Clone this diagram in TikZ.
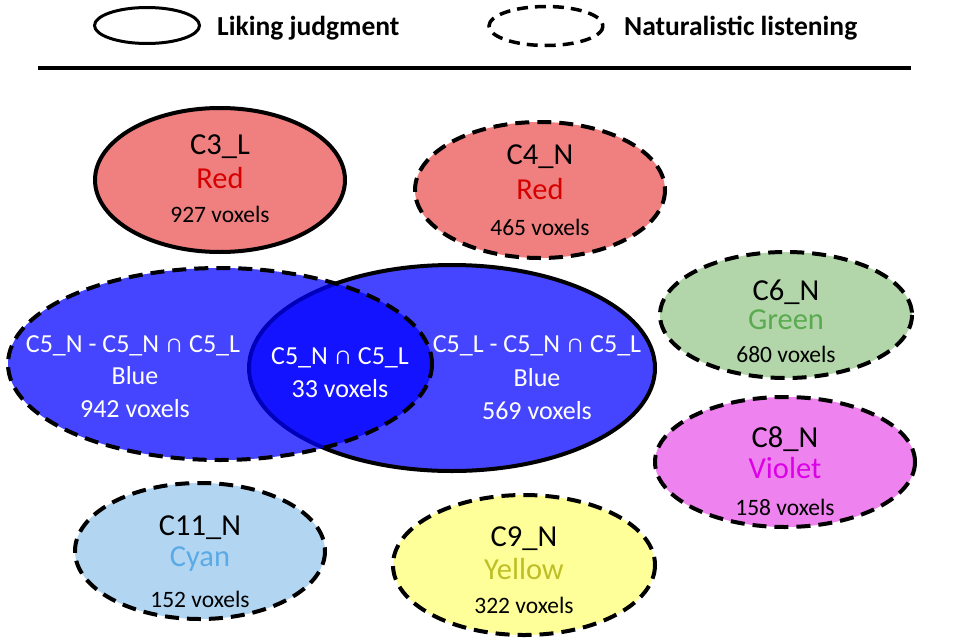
\documentclass[tikz,border=0pt]{standalone}
\usepackage{fontspec}
\setmainfont{Carlito}
\usetikzlibrary{shapes.geometric}
\definecolor{redfill}{RGB}{240,128,128}
\definecolor{redtext}{RGB}{215,0,0}
\definecolor{bluefill}{RGB}{0,0,255}
\definecolor{greenfill}{RGB}{178,214,170}
\definecolor{greentext}{RGB}{90,170,80}
\definecolor{violetfill}{RGB}{238,130,238}
\definecolor{violettext}{RGB}{220,0,230}
\definecolor{cyanfill}{RGB}{178,214,242}
\definecolor{cyantext}{RGB}{90,170,230}
\definecolor{yellowfill}{RGB}{255,255,153}
\definecolor{yellowtext}{RGB}{190,190,40}
\tikzset{
  solidborder/.style={draw=black, line width=4pt},
  dashborder/.style={draw=black, line width=4pt, dash pattern=on 14pt off 8pt},
  big/.style={font=\fontsize{30.5}{33}\selectfont},
  small/.style={font=\fontsize{23.5}{26}\selectfont},
  wsmall/.style={font=\fontsize{26}{28}\selectfont, text=white},
  lbl/.style={inner sep=0pt, anchor=base},
}
\begin{document}
\begin{tikzpicture}[x=1pt,y=-1pt]
\useasboundingbox (0,0) rectangle (957,642);
% legend
\draw[line width=3pt] (147,25.5) ellipse [x radius=52.5, y radius=18];
\node[lbl, anchor=base west, font=\fontsize{27.5}{30}\selectfont\bfseries] (legL) at (217,36) {Liking judgment};
\draw[line width=3.5pt, dash pattern=on 11pt off 7pt] (546,26) ellipse [x radius=57, y radius=19.5];
\node[lbl, anchor=base west, font=\fontsize{27.5}{30}\selectfont\bfseries] (legN) at (624,36) {Naturalistic listening};
\draw[line width=4.5pt] (38,68) -- (911,68);
% C3_L
\path[fill=redfill, solidborder] (220,180) ellipse [x radius=125, y radius=72];
\node[lbl, big] (c3a) at (220,154) {C3\_L};
\node[lbl, big, text=redtext] (c3b) at (220,188) {Red};
\node[lbl, small] (c3c) at (220,222) {927 voxels};
% C4_N
\path[fill=redfill, dashborder] (540,190) ellipse [x radius=125, y radius=68];
\node[lbl, big] (c4a) at (540,164) {C4\_N};
\node[lbl, big, text=redtext] (c4b) at (540,199) {Red};
\node[lbl, small] (c4c) at (540,235) {465 voxels};
% C5_L right (solid)
\path[fill=bluefill, fill opacity=0.73, solidborder] (452,368) ellipse [x radius=203, y radius=103];
% C5_N left (dashed)
\path[fill=bluefill, fill opacity=0.73] (220,364) ellipse [x radius=212, y radius=96];
\path[dashborder] (220,364) ellipse [x radius=212, y radius=96];
\node[lbl, wsmall] (c5na) at (133,352) {C5\_N - C5\_N ∩ C5\_L};
\node[lbl, wsmall] (c5nb) at (135,384) {Blue};
\node[lbl, wsmall] (c5nc) at (135,417) {942 voxels};
\node[lbl, wsmall] (c5ia) at (340,364) {C5\_N ∩ C5\_L};
\node[lbl, wsmall] (c5ib) at (340,397) {33 voxels};
\node[lbl, wsmall] (c5la) at (537,352) {C5\_L - C5\_N ∩ C5\_L};
\node[lbl, wsmall] (c5lb) at (537,386) {Blue};
\node[lbl, wsmall] (c5lc) at (537,419) {569 voxels};
% C6_N
\path[fill=greenfill, dashborder] (786,315) ellipse [x radius=126, y radius=63];
\node[lbl, big] (c6a) at (786,300) {C6\_N};
\node[lbl, big, text=greentext] (c6b) at (786,329) {Green};
\node[lbl, small] (c6c) at (786,362) {680 voxels};
% C8_N
\path[fill=violetfill, dashborder] (785,462) ellipse [x radius=130, y radius=65];
\node[lbl, big] (c8a) at (785,447) {C8\_N};
\node[lbl, big, text=violettext] (c8b) at (785,478) {Violet};
\node[lbl, small] (c8c) at (785,515) {158 voxels};
% C11_N
\path[fill=cyanfill, dashborder] (200,551) ellipse [x radius=125, y radius=68];
\node[lbl, big] (c11a) at (200,535) {C11\_N};
\node[lbl, big, text=cyantext] (c11b) at (200,566) {Cyan};
\node[lbl, small] (c11c) at (200,607) {152 voxels};
% C9_N
\path[fill=yellowfill, dashborder] (524,565) ellipse [x radius=131, y radius=70];
\node[lbl, big] (c9a) at (524,546) {C9\_N};
\node[lbl, big, text=yellowtext] (c9b) at (524,579) {Yellow};
\node[lbl, small] (c9c) at (524,613) {322 voxels};
\end{tikzpicture}
\end{document}
